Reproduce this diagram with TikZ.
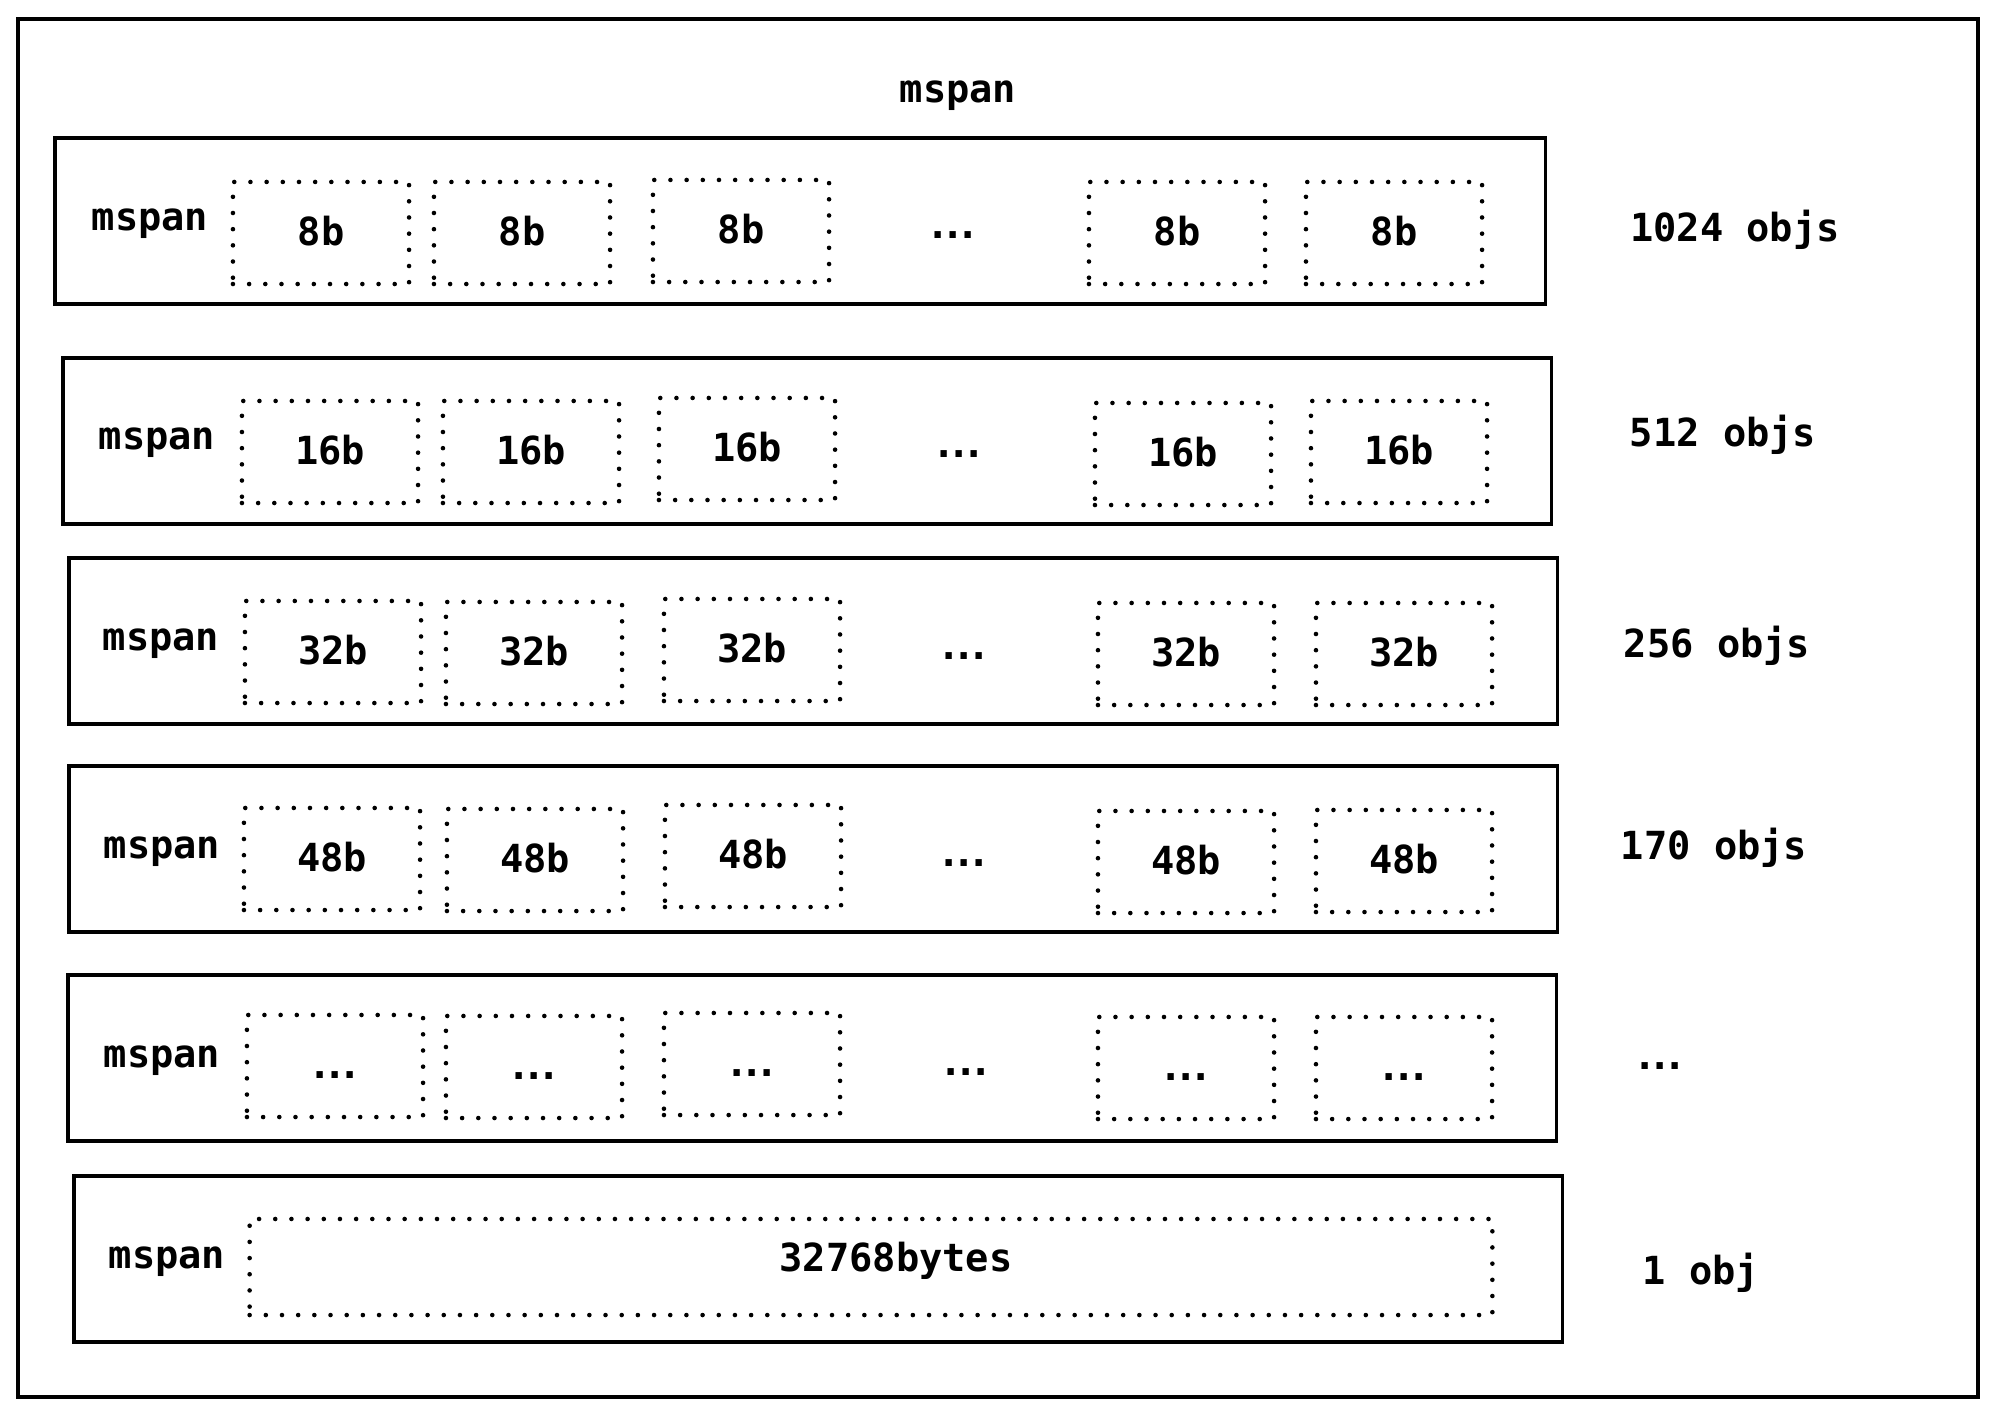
\documentclass[tikz,border=0pt]{standalone}
\usepackage{fontspec}
\setmonofont{DejaVu Sans Mono}
\newcommand{\gapdots}{.\kern-2.4pt.\kern-2.4pt.}
\begin{document}
\begin{tikzpicture}[x=0.01cm,y=-0.01cm,
  thick,every node/.style={font=\ttfamily\bfseries\fontsize{11}{13}\selectfont},
  span box/.style={draw,line width=1.1pt,minimum width=14.88cm,minimum height=1.66cm,inner sep=0pt},
  obj box/.style={draw,line width=1.3pt,dash pattern=on 0pt off 4.6pt,line cap=round,
    minimum width=1.76cm,minimum height=1.02cm,inner sep=0pt,text height=0.7em,text depth=0pt}]

  \useasboundingbox (0,0) rectangle (1998,1416);

  \node[draw,line width=1.1pt,minimum width=19.59cm,minimum height=13.78cm] (frame) at (998,708){};
  \node (title) at (958,96){mspan};

  % 8b
  \node[span box,minimum width=14.90cm] (span1) at (800,221){};
  \node (lbl1) at (150,224){mspan};
  \node[obj box] (o11) at (321,233){8b};
  \node[obj box] (o12) at (522,233){8b};
  \node[obj box] (o13) at (741,231){8b};
  \node (gap1) at (953,235){\gapdots};
  \node[obj box] (o14) at (1177,233){8b};
  \node[obj box] (o15) at (1394,233){8b};
  \node (cnt1) at (1735,230){1024 objs};

  % 16b
  \node[span box] (span2) at (807,441){};
  \node (lbl2) at (157,443){mspan};
  \node[obj box] (o21) at (330,452){16b};
  \node[obj box] (o22) at (531,452){16b};
  \node[obj box] (o23) at (747,449){16b};
  \node (gap2) at (959,454){\gapdots};
  \node[obj box] (o24) at (1183,454){16b};
  \node[obj box] (o25) at (1399,452){16b};
  \node (cnt2) at (1723,435){512 objs};

  % 32b
  \node[span box] (span3) at (813,641){};
  \node (lbl3) at (161,644){mspan};
  \node[obj box] (o31) at (333,652){32b};
  \node[obj box] (o32) at (534,653){32b};
  \node[obj box] (o33) at (752,650){32b};
  \node (gap3) at (964,656){\gapdots};
  \node[obj box] (o34) at (1186,654){32b};
  \node[obj box] (o35) at (1404,654){32b};
  \node (cnt3) at (1717,646){256 objs};

  % 48b
  \node[span box] (span4) at (813,849){};
  \node (lbl4) at (162,852){mspan};
  \node[obj box] (o41) at (332,859){48b};
  \node[obj box] (o42) at (535,860){48b};
  \node[obj box] (o43) at (753,856){48b};
  \node (gap4) at (964,863){\gapdots};
  \node[obj box] (o44) at (1186,862){48b};
  \node[obj box] (o45) at (1404,861){48b};
  \node (cnt4) at (1714,848){170 objs};

  % ...
  \node[span box] (span5) at (812,1058){};
  \node (lbl5) at (162,1061){mspan};
  \node[obj box] (o51) at (335,1066){\gapdots};
  \node[obj box] (o52) at (534,1067){\gapdots};
  \node[obj box] (o53) at (752,1064){\gapdots};
  \node (gap5) at (966,1072){\gapdots};
  \node[obj box] (o54) at (1186,1068){\gapdots};
  \node[obj box] (o55) at (1404,1068){\gapdots};
  \node (cnt5) at (1660,1066){\gapdots};

  % large object
  \node[span box] (span6) at (818,1259){};
  \node (lbl6) at (167,1262){mspan};
  \node[obj box,minimum width=12.42cm,minimum height=0.96cm] (o61) at (871,1267){};
  \node (big) at (896,1261){32768bytes};
  \node (cnt6) at (1701,1273){1 obj};
\end{tikzpicture}
\end{document}
